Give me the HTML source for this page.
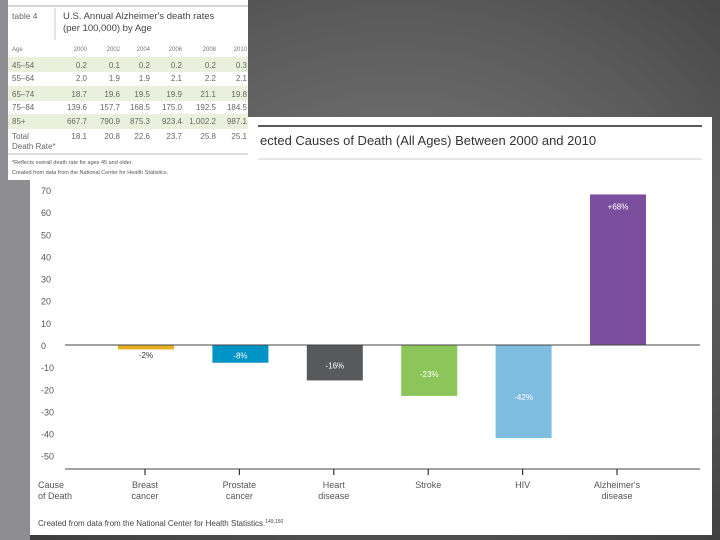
<!DOCTYPE html>
<html><head><meta charset="utf-8"><style>
html,body{margin:0;padding:0;width:720px;height:540px;overflow:hidden;}
body{background:radial-gradient(ellipse at 55% 45%,#7a7a7a 0%,#5a5a5a 55%,#3a3a3a 100%);font-family:"Liberation Sans",sans-serif;}
svg{position:absolute;left:0;top:0;}
</style></head><body>
<svg id="chart" width="720" height="540" font-family="Liberation Sans, sans-serif">
  <rect x="0" y="0" width="30" height="540" fill="#8e8e92"/>
  <rect x="30" y="117" width="682" height="418" fill="#ffffff"/>
  <line x1="258" y1="126" x2="702" y2="126" stroke="#222" stroke-width="1.5"/>
  <text x="260" y="145" font-size="13" fill="#333">ected Causes of Death (All Ages) Between 2000 and 2010</text>
  <line x1="258" y1="159" x2="702" y2="159" stroke="#ddd" stroke-width="1.5"/>
  <g id="yaxis"></g>
  <g id="bars"></g>
  <line x1="65" y1="469" x2="700" y2="469" stroke="#444" stroke-width="1"/>
  <g id="xaxis"></g>
  <text x="38" y="488" font-size="9" fill="#555"><tspan x="38">Cause</tspan><tspan x="38" dy="11">of Death</tspan></text>
  <text x="38" y="526" font-size="8" fill="#444">Created from data from the National Center for Health Statistics.<tspan font-size="5" dy="-3">149,150</tspan></text>

  <g font-size="7" fill="#555">
    <rect x="8" y="0" width="240" height="180" fill="#fff"/>
    <line x1="8" y1="6" x2="248" y2="6" stroke="#aaa"/>
    <line x1="55" y1="8" x2="55" y2="40" stroke="#ccc"/>
    <text x="12" y="19" font-size="8.5" fill="#666">table 4</text>
    <text x="63" y="19" font-size="9.5" fill="#444">U.S. Annual Alzheimer's death rates</text>
    <text x="63" y="31" font-size="9.5" fill="#444">(per 100,000) by Age</text>
    <rect x="8" y="57" width="240" height="15" fill="#e9f1dc"/>
    <rect x="8" y="86" width="240" height="15" fill="#e9f1dc"/>
    <rect x="8" y="114" width="240" height="15" fill="#e9f1dc"/>
    <line x1="8" y1="154" x2="248" y2="154" stroke="#bbb"/>
    <g id="tbl"></g>
    <text x="12" y="164" font-size="5.5">*Reflects overall death rate for ages 45 and older.</text>
    <text x="12" y="174" font-size="5.5">Created from data from the National Center for Health Statistics.</text>
  </g>
</svg>
<script>
const categories = ["Breast|cancer","Prostate|cancer","Heart|disease","Stroke","HIV","Alzheimer's|disease"];
const values = [-2,-8,-16,-23,-42,68];
const labels = ["-2%","-8%","-16%","-23%","-42%","+68%"];
const colors = ["#e8b020","#0093c6","#58595b","#8cc55a","#7fbde0","#7b4f9e"];
const yTicks = [70,60,50,40,30,20,10,0,-10,-20,-30,-40,-50];
const tblYears = ["2000","2002","2004","2006","2008","2010"];
const tblRows = [["45–54","0.2","0.1","0.2","0.2","0.2","0.3"],["55–64","2.0","1.9","1.9","2.1","2.2","2.1"],["65–74","18.7","19.6","19.5","19.9","21.1","19.8"],["75–84","139.6","157.7","168.5","175.0","192.5","184.5"],["85+","667.7","790.9","875.3","923.4","1,002.2","987.1"],["Total","18.1","20.8","22.6","23.7","25.8","25.1"]];

const NS="http://www.w3.org/2000/svg";
function mk(tag,attrs,parent){const e=document.createElementNS(NS,tag);for(const k in attrs)e.setAttribute(k,attrs[k]);parent.appendChild(e);return e;}
const y=v=>345-v*2.214;
const x=i=>146+i*94.4;
const bw=56;
const ya=document.getElementById('yaxis');
yTicks.forEach(t=>{const e=mk('text',{x:41,y:y(t)+4,'font-size':9,fill:'#555'},ya);e.textContent=String(t);

});
const bars=document.getElementById('bars');
values.forEach((v,i)=>{
  const top=Math.min(y(v),y(0)),h=Math.abs(y(v)-y(0));
  const r=mk('rect',{x:x(i)-bw/2,y:top,width:bw,height:Math.max(h,1),fill:colors[i]},bars);
  
  
  const inside=h>10;
  const ly=v>0?y(v)+15:(inside?y(0)+h*0.55+4:y(0)+13);
  const t=mk('text',{x:x(i),y:ly,'font-size':8,'text-anchor':'middle',fill:inside?'#fff':'#333'},bars);
  t.textContent=labels[i];
  
  
});
mk('line',{x1:65,y1:y(0),x2:700,y2:y(0),stroke:'#444','stroke-width':1},bars);
const xa=document.getElementById('xaxis');
categories.forEach((c,i)=>{
  const tk=mk('line',{x1:x(i)-1,y1:469,x2:x(i)-1,y2:475,stroke:'#333','stroke-width':1.2},xa);
  
  
  const t=mk('text',{x:x(i)-1,y:488,'font-size':9,'text-anchor':'middle',fill:'#555'},xa);
  
  
  c.split('|').forEach((p,j)=>{const s=mk('tspan',{x:x(i)-1,dy:j?11:0},t);s.textContent=p;});
});
const tb=document.getElementById('tbl');
const colX=[87,120,150,182,216,247];
const h0=mk('text',{x:12,y:51,'font-size':6,fill:'#777'},tb);h0.textContent='Age';
tblYears.forEach((yr,i)=>{const e=mk('text',{x:colX[i],y:51,'font-size':6,'text-anchor':'end',fill:'#777'},tb);e.textContent=yr;});
const rowY=[68,81,97,110,124,139];
tblRows.forEach((r,ri)=>{r.forEach((c,ci)=>{const e=mk('text',{x:ci?colX[ci-1]:12,y:rowY[ri],'font-size':8,'text-anchor':ci?'end':'start',fill:'#666'},tb);e.textContent=c;});});
const dr=mk('text',{x:12,y:149,'font-size':8,fill:'#666'},tb);dr.textContent='Death Rate*';
</script>
</body></html>
